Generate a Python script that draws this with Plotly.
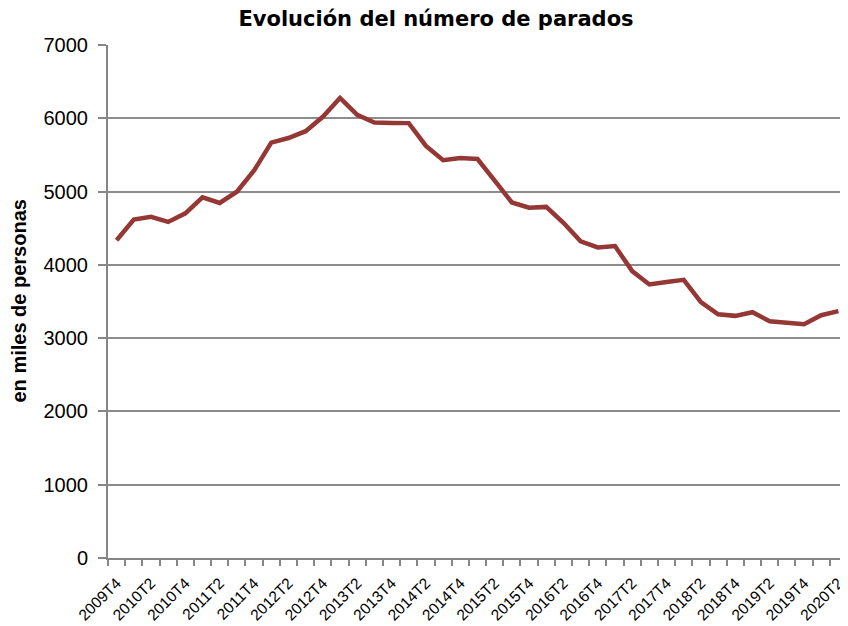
import plotly.graph_objects as go

categories = ["2009T4",
              "2010T1", "2010T2", "2010T3", "2010T4",
              "2011T1", "2011T2", "2011T3", "2011T4",
              "2012T1", "2012T2", "2012T3", "2012T4",
              "2013T1", "2013T2", "2013T3", "2013T4",
              "2014T1", "2014T2", "2014T3", "2014T4",
              "2015T1", "2015T2", "2015T3", "2015T4",
              "2016T1", "2016T2", "2016T3", "2016T4",
              "2017T1", "2017T2", "2017T3", "2017T4",
              "2018T1", "2018T2", "2018T3", "2018T4",
              "2019T1", "2019T2", "2019T3", "2019T4",
              "2020T1", "2020T2"]

parados = [4335,
           4617, 4655, 4586, 4703,
           4921, 4845, 4998, 5287,
           5667, 5731, 5824, 6021,
           6278, 6047, 5943, 5936,
           5934, 5623, 5428, 5458,
           5444, 5149, 4851, 4780,
           4791, 4575, 4321, 4238,
           4256, 3915, 3732, 3767,
           3796, 3491, 3326, 3304,
           3354, 3230, 3214, 3191,
           3313, 3368]

tick_labels = [c if i % 2 == 0 else "" for i, c in enumerate(categories)]
y_ticks = [0, 1000, 2000, 3000, 4000, 5000, 6000, 7000]

fig = go.Figure()
fig.add_trace(go.Scatter(
    x=categories, y=parados, mode="lines",
    line=dict(color="#953735", width=4.5),
    showlegend=False, hoverinfo="x+y"))

# page has an 8px body margin: figure occupies 8..848 x 8..626
OFF = 8
W, H = 848 - OFF, 626 - OFF
ml, mr, mt, mb = 108 - OFF, 1, 45 - OFF, 68

fig.update_layout(
    width=W, height=H,
    margin=dict(l=ml, r=mr, t=mt, b=mb, pad=0),
    paper_bgcolor="white", plot_bgcolor="white",
    title=dict(text="<b>Evolución del número de parados</b>",
               x=(436 - OFF) / W, xanchor="center", y=1 - (19 - OFF) / H, yanchor="middle",
               font=dict(family="DejaVu Sans", size=21, color="black")),
    xaxis=dict(type="category", categoryorder="array", categoryarray=categories,
               tickmode="array", tickvals=categories, ticktext=tick_labels,
               tickson="boundaries", ticks="outside", ticklen=6, tickcolor="#868686",
               tickwidth=1.5, automargin=False, ticklabelstandoff=8,
               showline=True, linecolor="#868686", linewidth=2,
               showgrid=False, tickangle=-45,
               tickfont=dict(family="Liberation Sans", size=15.5, color="black"),
               range=[-0.5, len(categories) - 0.5], fixedrange=True),
    yaxis=dict(range=[0, 7000], tickvals=y_ticks, ticks="outside", ticklen=8,
               tickcolor="#868686", tickwidth=1.5, automargin=False,
               showline=True, linecolor="#868686", linewidth=2,
               showgrid=True, gridcolor="#8c8c8c", gridwidth=1.5,
               zeroline=False, ticklabelstandoff=6,
               tickfont=dict(family="Liberation Sans", size=20, color="black")),
    annotations=[dict(text="<b>en miles de personas</b>", textangle=-90,
                      xref="paper", yref="paper",
                      x=-(108 - 18) / (W - ml - mr), y=0.5,
                      xanchor="center", yanchor="middle", showarrow=False,
                      font=dict(family="Liberation Sans", size=20, color="black"))],
)

fig.write_html("out.html")
